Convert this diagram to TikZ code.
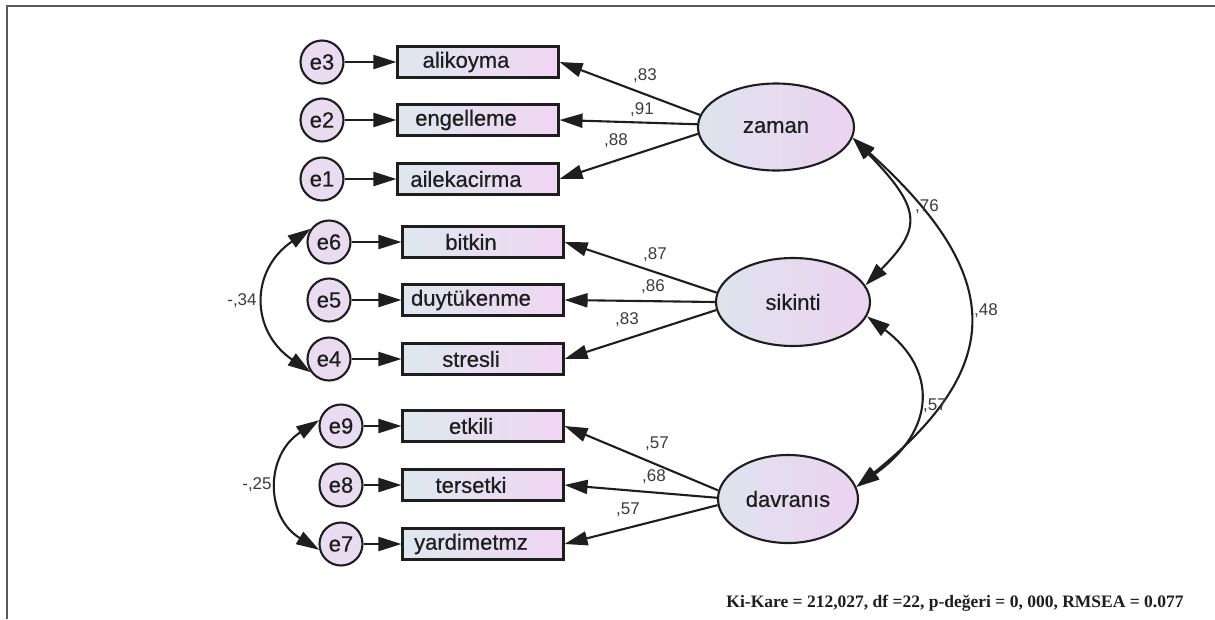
\documentclass[tikz,border=0pt]{standalone}
\usepackage{fontspec}
\setmainfont{Liberation Sans}
\newfontfamily\diag{Liberation Sans}[FakeBold=0.6]
\newfontfamily\serifb{Liberation Serif}
\usetikzlibrary{arrows.meta,shapes.geometric}
\definecolor{boxL}{HTML}{DEE7EE}
\definecolor{boxR}{HTML}{F0D6F3}
\definecolor{latL}{HTML}{DFE3EE}
\definecolor{latR}{HTML}{ECD3F0}
\definecolor{circF}{HTML}{E9DCF0}
\definecolor{ink}{HTML}{1E1E1E}
\definecolor{lblc}{HTML}{3C3C3C}
\definecolor{framec}{HTML}{5A5A5A}
\tikzset{
  obs/.style={draw=ink, line width=2.1pt, left color=boxL, right color=boxR,
    minimum width=161pt, minimum height=31pt, inner sep=0pt,
    font=\diag\fontsize{22}{22}\selectfont, text=ink},
  err/.style={circle, draw=ink, line width=2.1pt, fill=circF, minimum size=43pt,
    inner sep=0pt, font=\diag\fontsize{22}{22}\selectfont, text=ink},
  lat/.style={ellipse, draw=ink, line width=2.1pt, left color=latL, right color=latR,
    inner sep=0pt, font=\diag\fontsize{22}{22}\selectfont, text=ink},
  arr/.style={line width=2.1pt, draw=ink, -{Triangle[length=23pt,width=14pt]}},
  cov/.style={line width=2.1pt, draw=ink, {Triangle[length=23pt,width=14pt]}-{Triangle[length=23pt,width=14pt]}},
  lbl/.style={font=\fontsize{17}{17}\selectfont, text=lblc, inner sep=0pt},
}
\begin{document}
\begin{tikzpicture}[x=1pt,y=-1pt]
\useasboundingbox (0,0) rectangle (1215,619);
\fill[white] (0,0) rectangle (1215,619);
\draw[framec, line width=1.6pt] (7,619) -- (7,6) -- (1215,6);

% observed
\node[obs] (alikoyma) at (478,62) {alikoyma\hspace*{24pt}};
\node[obs] (engelleme) at (478,120) {engelleme\hspace*{24pt}};
\node[obs] (ailekacirma) at (478,179) {ailekacirma\hspace*{24pt}};
\node[obs] (bitkin) at (483,242) {bitkin\hspace*{24pt}};
\node[obs] (duytukenme) at (483,300) {duytükenme\hspace*{24pt}};
\node[obs] (stresli) at (483,359) {stresli\hspace*{24pt}};
\node[obs] (etkili) at (483,426) {etkili\hspace*{24pt}};
\node[obs] (tersetki) at (483,485) {tersetki\hspace*{24pt}};
\node[obs] (yardimetmz) at (483,544) {yardimetmz\hspace*{24pt}};

% errors
\node[err] (e3) at (322,62) {e3};
\node[err] (e2) at (322,120) {e2};
\node[err] (e1) at (322,179) {e1};
\node[err] (e6) at (329,242) {e6};
\node[err] (e5) at (329,300) {e5};
\node[err] (e4) at (329,359) {e4};
\node[err] (e9) at (341,426) {e9};
\node[err] (e8) at (341,485) {e8};
\node[err] (e7) at (341,544) {e7};

% latents
\node[lat, minimum width=156pt, minimum height=87pt] (zaman) at (776,127) {zaman};
\node[lat, minimum width=154pt, minimum height=88pt] (sikinti) at (793,302) {sikinti};
\node[lat, minimum width=140pt, minimum height=88pt] (davranis) at (788,499) {davranıs};

% error arrows
\foreach \e/\b in {e3/alikoyma,e2/engelleme,e1/ailekacirma,e6/bitkin,e5/duytukenme,e4/stresli,e9/etkili,e8/tersetki,e7/yardimetmz}
  \draw[arr] (\e.east) -- (\b.west);

% loadings
\draw[arr] (zaman.171) -- (alikoyma.east);
\draw[arr] (zaman.178) -- (engelleme.east);
\draw[arr] (zaman.185) -- (ailekacirma.east);
\draw[arr] (sikinti.173) -- (bitkin.east);
\draw[arr] (sikinti.180) -- (duytukenme.east);
\draw[arr] (sikinti.186) -- (stresli.east);
\draw[arr] (davranis.173) -- (etkili.east);
\draw[arr] (davranis.179) -- (tersetki.east);
\draw[arr] (davranis.185) -- (yardimetmz.east);

\node[lbl] (l1) at (645,76) {,83};
\node[lbl] (l2) at (642,110) {,91};
\node[lbl] (l3) at (616,141) {,88};
\node[lbl] (l4) at (655,255) {,87};
\node[lbl] (l5) at (653,287) {,86};
\node[lbl] (l6) at (627,320) {,83};
\node[lbl] (l7) at (657,444) {,57};
\node[lbl] (l8) at (654,477) {,68};
\node[lbl] (l9) at (628,510) {,57};

% covariances
\draw[cov] (zaman.-8) .. controls (922,209) and (922,228) .. (sikinti.13);
\draw[cov] (zaman.-8) .. controls (1006,276) and (1006,366) .. (davranis.10);
\draw[cov] (sikinti.-11) .. controls (937,369) and (937,430) .. (davranis.10);
\draw[cov] (e6.144) .. controls (250,270) and (250,331) .. (e4.216);
\draw[cov] (e9.165) .. controls (265,455) and (265,517) .. (e7.195);

\node[lbl] (c1) at (927,207) {,76};
\node[lbl] (c2) at (986,311) {,48};
\node[lbl] (c3) at (935,406) {,57};
\node[lbl] (c4) at (242,301) {-,34};
\node[lbl] (c5) at (257,485) {-,25};

\node[font=\serifb\bfseries\fontsize{17.5}{17.5}\selectfont, text=ink, inner sep=0pt] (fit) at (955,603)
  {Ki-Kare = 212,027, df =22, p-değeri = 0, 000, RMSEA = 0.077};
\end{tikzpicture}
\end{document}
